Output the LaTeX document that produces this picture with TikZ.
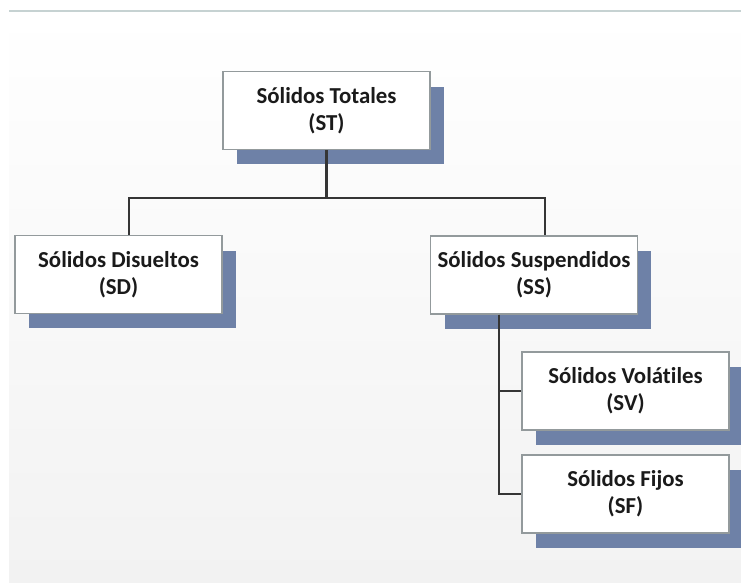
\documentclass[tikz,border=0pt]{standalone}
\usepackage{fontspec}
\setmainfont{Carlito}[Ligatures=NoCommon]
\usepackage{tikz}
\usetikzlibrary{shadows}
\usepackage{xcolor}
\definecolor{shade}{HTML}{6E81A7}
\definecolor{frame}{HTML}{939A9C}
\definecolor{wire}{HTML}{353535}
\definecolor{paper}{HTML}{F2F2F2}
\definecolor{rim}{HTML}{C6D2D2}
\definecolor{ink}{HTML}{1A1A1A}
\tikzset{solidbox/.style={draw=frame, line width=0.6pt, fill=white, text=ink,
		minimum width=4.14cm, minimum height=1.56cm, inner sep=2pt, align=center,
		font=\fontsize{13}{15.5}\selectfont\bfseries,
		drop shadow={shadow xshift=0.28cm, shadow yshift=-0.3cm, fill=shade, opacity=1}}}
\tikzset{link/.style={draw=wire, line width=1.3pt}}

\begin{document}
\begin{tikzpicture}[x=0.02cm, y=-0.02cm]
		\useasboundingbox (0,0) rectangle (741,582);
		%background
		\shade [top color=white, bottom color=paper] (9,11) rectangle (741,582);
		\draw [rim, line width=0.8pt] (9,11) -- (741,11);
		%boxes
		\node [solidbox] (st) at (326.5,110.5) {Sólidos Totales\\(ST)};
		\node [solidbox] (sd) at (118.5,274.5) {Sólidos Disueltos\\(SD)};
		\node [solidbox] (ss) at (534,275) {Sólidos Suspendidos\\(SS)};
		\node [solidbox] (sv) at (625.5,391) {Sólidos Volátiles\\(SV)};
		\node [solidbox] (sf) at (625.5,494) {Sólidos Fijos\\(SF)};
		%first level
		\coordinate (bus) at (326.5,198);
		\draw [link] (st.south) -- (bus);
		\draw [link] ([xshift=0.21cm]sd.north) |- (bus) -| ([xshift=0.22cm]ss.north);
		%second level
		\draw [link] ([xshift=-0.7cm]ss.south) |- (sv.west);
		\draw [link] ([xshift=-0.7cm]ss.south) |- (sf.west);
	\end{tikzpicture}
\end{document}
